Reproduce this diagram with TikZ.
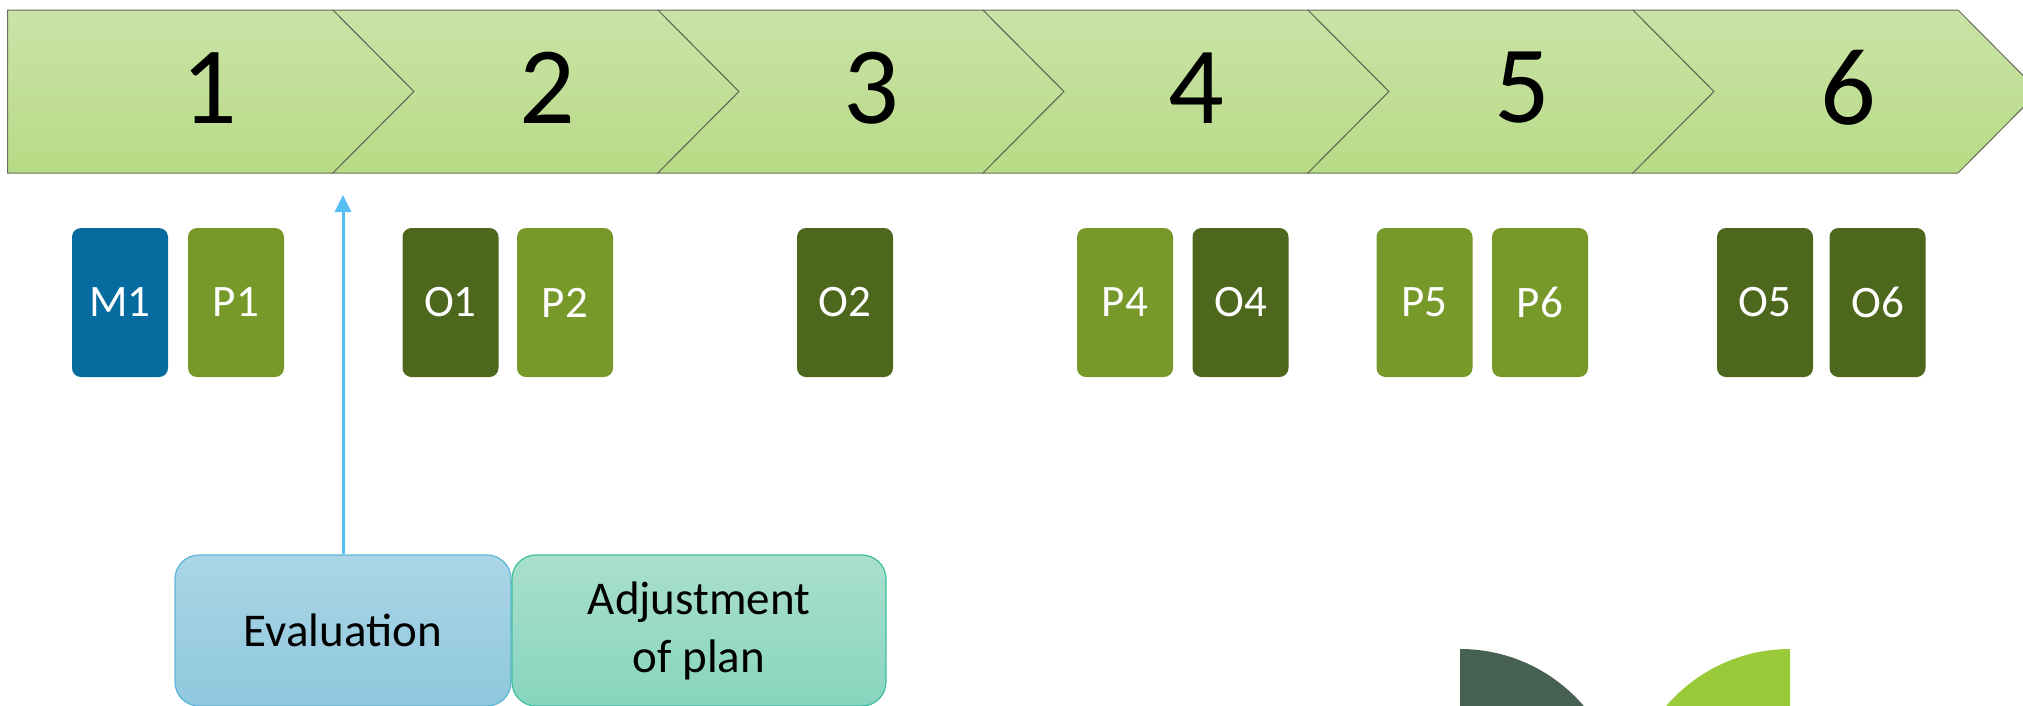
\documentclass[tikz,border=0pt]{standalone}
\usepackage{fontspec}
\setmainfont{Carlito}
\usetikzlibrary{arrows.meta}

\definecolor{chevtop}{RGB}{201,227,167}
\definecolor{chevbot}{RGB}{184,219,134}
\definecolor{chevline}{RGB}{98,110,88}
\definecolor{mblue}{RGB}{6,107,158}
\definecolor{pgreen}{RGB}{118,153,42}
\definecolor{odark}{RGB}{77,103,29}
\definecolor{evaltop}{RGB}{171,213,230}
\definecolor{evalbot}{RGB}{143,200,221}
\definecolor{evalline}{RGB}{92,182,216}
\definecolor{adjtop}{RGB}{169,223,205}
\definecolor{adjbot}{RGB}{136,213,190}
\definecolor{adjline}{RGB}{62,190,160}
\definecolor{arrowblue}{RGB}{86,190,245}
\definecolor{quarterdark}{RGB}{70,97,81}
\definecolor{quartergreen}{RGB}{154,202,58}

\begin{document}
\begin{tikzpicture}[x=1pt,y=-1pt,
  chevron/.style={draw=chevline, line width=1pt, line join=miter,
    top color=chevtop, bottom color=chevbot},
  num/.style={inner sep=0pt, font=\fontsize{110}{120}\selectfont, text=black},
  tag/.style={rounded corners=9pt, minimum width=96pt, minimum height=149pt,
    inner sep=0pt, text=white, font=\fontsize{45}{54}\selectfont},
  mtag/.style={tag, fill=mblue},
  ptag/.style={tag, fill=pgreen},
  otag/.style={tag, fill=odark},
  stagebox/.style={rounded corners=24pt, minimum height=151pt, inner sep=0pt,
    line width=1.2pt, align=center, text=black,
    font=\fontsize{47}{58}\selectfont},
  evalbox/.style={stagebox, minimum width=336pt, draw=evalline,
    top color=evaltop, bottom color=evalbot},
  adjbox/.style={stagebox, minimum width=374pt, draw=adjline,
    top color=adjtop, bottom color=adjbot},
  uparrow/.style={draw=arrowblue, line width=3pt,
    -{Triangle[length=17pt,width=16pt]}}
]
\useasboundingbox (0,0) rectangle (2023,705);
\clip (0,0) rectangle (2023,705);

% process chevrons
\path[chevron] (7.7,10) -- (333,10) -- (414,91.5) -- (333,173) -- (7.7,173) -- cycle;
\foreach \b in {333,658,983,1308,1633}{
  \path[chevron] (\b,10) -- ++(325,0) -- ++(81,81.5) -- ++(-81,81.5)
    -- ++(-325,0) -- ++(81,-81.5) -- cycle;
}
\node[num] (n1) at (209,88) {1};
\node[num] (n2) at (547,88) {2};
\node[num] (n3) at (871,88) {3};
\node[num] (n4) at (1196,88) {4};
\node[num] (n5) at (1522,88) {5};
\node[num] (n6) at (1848,88) {6};

% milestone tags
\node[mtag] (m1) at (120,302.5) {M1};
\node[ptag] (p1) at (236,302.5) {P1};
\node[otag] (o1) at (450.5,302.5) {O1};
\node[ptag] (p2) at (565,302.5) {P2};
\node[otag] (o2) at (845,302.5) {O2};
\node[ptag] (p4) at (1125,302.5) {P4};
\node[otag] (o4) at (1240.5,302.5) {O4};
\node[ptag] (p5) at (1424.5,302.5) {P5};
\node[ptag] (p6) at (1540,302.5) {P6};
\node[otag] (o5) at (1765,302.5) {O5};
\node[otag] (o6) at (1877.5,302.5) {O6};

% evaluation step
\node[evalbox] (eval) at (343,630.5) {Evaluation};
\node[adjbox] (adj) at (699,630.5) {Adjustment\\of plan};
\coordinate (evaltarget) at (343,195);
\draw[uparrow] (eval.north) -- (evaltarget);

% quarter discs
\fill[quarterdark] (1460,812) -- (1460,649) arc[start angle=270, end angle=360, radius=163] -- cycle;
\fill[quartergreen] (1790,812) -- (1790,649) arc[start angle=270, end angle=180, radius=163] -- cycle;
\end{tikzpicture}
\end{document}
